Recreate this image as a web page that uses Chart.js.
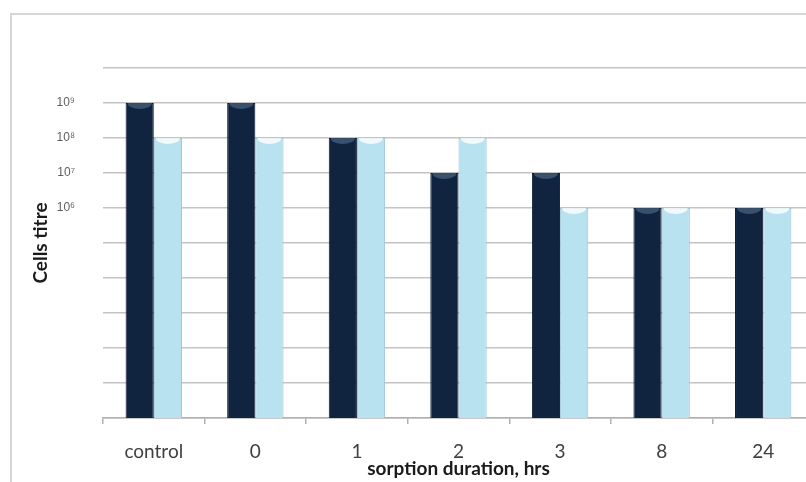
<!DOCTYPE html>
<html>
<head>
<meta charset="utf-8">
<script src="https://cdn.jsdelivr.net/npm/chart.js@4"></script>
<style>
  html, body { margin: 0; padding: 0; background: #fff; overflow: hidden; }
  #wrap { position: absolute; left: 0; top: 0; width: 830px; height: 482px; }
  #frame { position: absolute; left: 10px; top: 13px; width: 900px; height: 600px; border: 2px solid #d6d6d6; }
  #chart { position: absolute; left: 0; top: 0; }
</style>
</head>
<body>
<div id="wrap">
  <div id="frame"></div>
  <canvas id="chart" width="830" height="482"></canvas>
</div>
<script>
// Data (cells titre, log scale)
const categories = ['control', '0', '1', '2', '3', '8', '24'];
const darkSeries = [1e9, 1e9, 1e8, 1e7, 1e7, 1e6, 1e6];
const lightSeries = [1e8, 1e8, 1e8, 1e8, 1e6, 1e6, 1e6];
const yTickValues = [1, 1e1, 1e2, 1e3, 1e4, 1e5, 1e6, 1e7, 1e8, 1e9, 1e10];
const yTickLabels = ['', '', '', '', '', '', '10\u2076', '10\u2077', '10\u2078', '10\u2079', ''];

// Small plugin to give the bars the rounded "cylinder" top seen in the Excel chart
const barCaps = {
    id: 'barCaps',
    afterDatasetsDraw(chart) {
        const ctx = chart.ctx;
        chart.data.datasets.forEach((ds, i) => {
            const meta = chart.getDatasetMeta(i);
            meta.data.forEach(bar => {
                const w = bar.width;
                const left = bar.x - w / 2;
                ctx.save();
                ctx.beginPath();
                ctx.rect(left, bar.y, w, bar.base - bar.y);
                ctx.clip();
                ctx.beginPath();
                ctx.ellipse(bar.x, bar.y, w / 2 - 2, 6, 0, 0, Math.PI * 2);
                ctx.fillStyle = i === 0 ? 'rgba(95, 125, 160, 0.5)' : 'rgba(255, 255, 255, 0.8)';
                ctx.fill();
                ctx.restore();
            });
        });
    }
};

const ctx = document.getElementById('chart').getContext('2d');
const chart = new Chart(ctx, {
    type: 'bar',
    data: {
        labels: categories,
        datasets: [
            {
                label: 'series 1',
                data: darkSeries,
                backgroundColor: '#11243f',
                borderColor: '#0b1a2e',
                borderWidth: 1,
            },
            {
                label: 'series 2',
                data: lightSeries,
                backgroundColor: '#b8e2ef',
                borderColor: '#9cc4d2',
                borderWidth: 1,
            },
        ],
    },
    options: {
        responsive: false,
        animation: false,
        categoryPercentage: 0.555,
        barPercentage: 1,
        layout: {
            padding: { left: 12, top: 68, right: 16, bottom: 0 },
        },
        plugins: {
            legend: { display: false },
            tooltip: { enabled: false },
        },
        scales: {
            x: {
                afterFit: scale => { scale.height = 64; },
                grid: {
                    offset: true,
                    drawOnChartArea: false,
                    drawTicks: true,
                    tickLength: 6,
                    color: '#b0b0b0',
                    lineWidth: 1.5,
                },
                border: { display: true, color: '#b0b0b0', width: 1.5 },
                ticks: {
                    padding: 16,
                    color: '#404040',
                    font: { family: 'Lato, "Noto Sans", sans-serif', size: 19 },
                    maxRotation: 0,
                },
                title: {
                    display: true,
                    text: 'sorption duration, hrs',
                    color: '#1a1a1a',
                    font: { family: 'Lato, "Noto Sans", sans-serif', size: 19, weight: 'bold' },
                    padding: { top: 0, bottom: 2 },
                },
            },
            y: {
                type: 'logarithmic',
                min: 1,
                max: 1e10,
                afterFit: scale => { scale.width = 91; },
                afterBuildTicks: scale => {
                    scale.ticks = yTickValues.map(v => ({ value: v }));
                },
                grid: {
                    drawTicks: false,
                    color: '#c4c4c4',
                    lineWidth: 1.5,
                },
                border: { display: false },
                ticks: {
                    padding: 28,
                    color: '#5e5e5e',
                    font: { family: '"Liberation Sans", Arial, sans-serif', size: 12 },
                    callback: (value, index) => yTickLabels[index],
                },
                title: {
                    display: true,
                    text: 'Cells titre',
                    color: '#1a1a1a',
                    font: { family: 'Lato, "Noto Sans", sans-serif', size: 19, weight: 'bold' },
                    padding: { top: 17, bottom: 0 },
                },
            },
        },
    },
    plugins: [barCaps],
});
</script>
</body>
</html>
